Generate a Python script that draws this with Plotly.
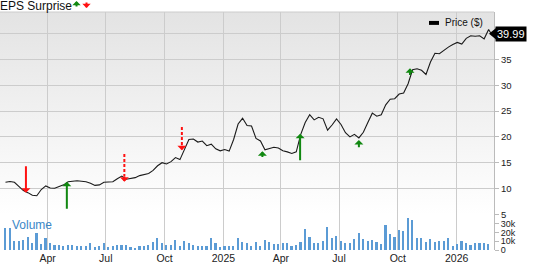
import base64
import pandas as pd
import plotly.graph_objects as go

# ---------------- data ----------------
price = [11.2, 11.35, 11.2, 10.4, 9.6, 9.2, 8.7, 8.6, 9.8, 10.5,
         10.1, 10.05, 10.4, 10.7, 11.3, 11.4, 11.5, 11.4, 11.3, 11.0,
         10.6, 10.7, 11.2, 11.25, 11.3, 11.9, 12.4, 11.8, 11.9, 12.1,
         12.5, 12.7, 12.9, 13.5, 14.4, 15.0, 14.75, 15.2, 16.0, 15.6,
         17.6, 19.5, 19.6, 19.0, 19.2, 18.3, 18.6, 17.7, 17.3, 17.55,
         17.25, 19.5, 22.5, 23.6, 22.2, 22.1, 19.7, 19.2, 17.5, 17.7,
         18.0, 17.85, 17.3, 17.1, 16.8, 17.1, 20.5, 22.8, 24.3, 23.3,
         23.8, 23.5, 21.3, 22.3, 23.5, 22.4, 20.8, 20.0, 20.5, 19.8,
         20.9, 22.8, 24.6, 24.0, 24.3, 26.2, 27.3, 27.4, 28.3, 28.5,
         30.3, 33.0, 33.2, 32.9, 32.1, 34.5, 36.2, 36.1, 36.8, 37.4,
         37.9, 38.3, 38.0, 39.1, 39.6, 39.5, 39.6, 39.0, 40.8, 39.99]

volume_k = [24.8, 24.8, 10, 10, 11.1, 14.8, 7.4, 19.6, 6.3, 13,
            8.1, 5.6, 5.6, 4.4, 5.6, 5.6, 4.4, 3.7, 4.4, 7.4,
            3.0, 3.7, 7.4, 3.0, 3.7, 5.6, 5.6, 5.6, 3.0, 1.9,
            3.7, 3.7, 5.6, 9.3, 13, 8.1, 5.6, 5.6, 11.1, 3.7,
            10, 7.4, 5.6, 4.4, 4.4, 4.4, 13.7, 7.4, 3.0, 4.4,
            4.4, 3.7, 13, 9.3, 7.4, 4.4, 9.3, 4.4, 11.1,
            9.3, 6.3, 6.3, 7.4, 7.4, 3.7, 5.6, 9.3, 24.1, 14.1,
            7.4, 7.4, 10, 25.9, 13, 15.9, 10.4, 7.4, 7.4, 12.2,
            19.3, 12.2, 10.4, 11.1, 9.3, 6.7, 27.8, 18.5, 14.8, 22.2,
            21.5, 36.3, 34.4, 13, 13, 9.3, 12.2, 9.3, 10, 10,
            13, 4.4, 6.3, 10.4, 7.4, 5.6, 7.4, 8.1, 7.4, 6.3]

week_dates = pd.date_range("2024-01-26", periods=len(volume_k), freq="7D")
price_dates = list(week_dates) + [pd.Timestamp("2026-02-24")]

# EPS surprise events: date, price at arrow tip, price at arrow tail, kind
eps_dates = ["2024-02-27", "2024-05-01", "2024-07-30", "2024-10-28",
             "2025-03-03", "2025-05-01", "2025-08-01", "2025-10-20"]
eps_tip = [9.2, 11.3, 11.3, 17.4, 17.2, 20.6, 19.4, 33.3]
eps_tail = [14.6, 5.8, 16.7, 21.9, 15.8, 15.2, 17.7, 31.7]
eps_kind = ["miss", "beat", "miss_dashed", "miss_dashed",
            "beat", "beat", "beat", "beat"]

month_ticks = ["2024-04-01", "2024-07-01", "2024-10-01", "2025-01-01",
               "2025-04-01", "2025-07-01", "2025-10-01", "2026-01-01"]
month_labels = ["Apr", "Jul", "Oct", "2025", "Apr", "Jul", "Oct", "2026"]

price_ticks = [5, 10, 15, 20, 25, 30, 35, 40]
price_labels = ["5", "10", "15", "20", "25", "30", "35", ""]
vol_ticks = [0, 10, 20, 30]
vol_labels = ["0", "10k", "20k", "30k"]
last_price = 39.99

# ---------------- figure ----------------
FONT = "Liberation Sans, Arial, sans-serif"
GRID = "#cccccc"
GREEN = "#118811"
RED = "#ff1111"

fig = go.Figure()

fig.add_trace(go.Bar(x=week_dates, y=volume_k, xaxis="x", yaxis="y2",
                     marker=dict(color="#5b9bd5", line=dict(width=0)),
                     width=2.6 * 86400000, showlegend=False, hoverinfo="skip"))

fig.add_trace(go.Scatter(x=price_dates, y=price, xaxis="x", yaxis="y",
                         mode="lines", line=dict(color="#1a1a1a", width=1.1),
                         showlegend=False, hoverinfo="skip"))

annotations = []
shapes = []

for d, tip, tail, kind in zip(eps_dates, eps_tip, eps_tail, eps_kind):
    color = GREEN if kind == "beat" else RED
    if kind == "miss_dashed":
        shapes.append(dict(type="line", xref="x", yref="y", x0=d, x1=d,
                           y0=tail, y1=tip + 1.0,
                           line=dict(color=color, width=2, dash="3px,2px")))
        annotations.append(dict(x=d, y=tip, xref="x", yref="y", text="",
                                showarrow=True, ax=0, ay=-6, axref="pixel",
                                ayref="pixel", arrowhead=1, arrowsize=0.75,
                                arrowwidth=2, arrowcolor=color))
    else:
        annotations.append(dict(x=d, y=tip, xref="x", yref="y", text="",
                                showarrow=True, ax=0, ay=tail, axref="pixel",
                                ayref="y", arrowhead=1, arrowsize=0.75,
                                arrowwidth=2, arrowcolor=color))

# title-like labels
annotations.append(dict(xref="paper", yref="paper", x=0, y=1.026,
                        xanchor="left", yanchor="middle", showarrow=False,
                        text="EPS Surprise",
                        font=dict(family=FONT, size=12, color="#111"),
                        xshift=-2))
# small legend arrows next to "EPS Surprise"
annotations.append(dict(xref="paper", yref="paper", x=0.1549, y=1.0458,
                        text="", showarrow=True, ax=0, ay=7, arrowhead=1,
                        arrowsize=0.7, arrowwidth=2, arrowcolor=GREEN))
annotations.append(dict(xref="paper", yref="paper", x=0.1751, y=1.0167,
                        text="", showarrow=True, ax=0, ay=-7, arrowhead=1,
                        arrowsize=0.7, arrowwidth=2, arrowcolor=RED))
annotations.append(dict(xref="paper", yref="paper", x=0.02, y=0.104,
                        xanchor="left", yanchor="middle", showarrow=False,
                        text="Volume", font=dict(family=FONT, size=12, color="#3a87c8")))
annotations.append(dict(xref="paper", yref="paper", x=0.897, y=0.954,
                        xanchor="left", yanchor="middle", showarrow=False,
                        text="Price ($)", font=dict(family=FONT, size=10, color="#111")))
annotations.append(dict(xref="paper", yref="y", x=1, y=last_price,
                        xanchor="left", yanchor="middle", showarrow=False,
                        xshift=1, text="%.2f" % last_price, bgcolor="#000000",
                        borderpad=1, font=dict(family=FONT, size=11, color="#ffffff")))

# legend swatch
shapes.append(dict(type="rect", xref="paper", yref="paper", x0=0.8684, x1=0.8887,
                   y0=0.9458, y1=0.9625, fillcolor="#000000", line=dict(width=0)))
# pointer of the last-price tag
shapes.append(dict(type="path", xref="paper", yref="y", xsizemode="pixel",
                   ysizemode="pixel", xanchor=1, yanchor=last_price,
                   path="M-5,0 L3,6.5 L3,-6.5 Z", fillcolor="#000000",
                   line=dict(width=0)))
# top border of the plotting area
shapes.append(dict(type="line", xref="paper", yref="paper", x0=0, x1=1, y0=1, y1=1,
                   line=dict(color=GRID, width=1)))

svg = ('<svg xmlns="http://www.w3.org/2000/svg" width="10" height="100" '
       'preserveAspectRatio="none"><defs><linearGradient id="g" x1="0" y1="0" '
       'x2="0" y2="1"><stop offset="0" stop-color="#e3e3e3"/>'
       '<stop offset="1" stop-color="#ffffff"/></linearGradient></defs>'
       '<rect width="10" height="100" fill="url(#g)"/></svg>')
src = "data:image/svg+xml;base64," + base64.b64encode(svg.encode()).decode()

fig.update_layout(
    width=533, height=264,
    margin=dict(l=0, r=39, t=12, b=12),
    paper_bgcolor="#ffffff", plot_bgcolor="rgba(0,0,0,0)",
    font=dict(family=FONT, size=10, color="#333"),
    bargap=0,
    showlegend=False,
    images=[dict(source=src, xref="paper", yref="paper", x=0, y=1,
                 sizex=1, sizey=0.85, sizing="stretch", layer="below",
                 xanchor="left", yanchor="top")],
    xaxis=dict(type="date", range=["2024-01-17 10:00", "2026-02-28 10:00"],
               anchor="y2", tickvals=month_ticks, ticktext=month_labels,
               showgrid=True, gridcolor=GRID, gridwidth=1, ticks="",
               showline=False, zeroline=False,
               tickfont=dict(family=FONT, size=10.5, color="#222")),
    yaxis=dict(domain=[0.15, 1], range=[5, 44.2], side="right", anchor="x",
               tickvals=price_ticks, ticktext=price_labels,
               showgrid=True, gridcolor=GRID, gridwidth=1, zeroline=False,
               showline=True, linecolor="#bbbbbb", ticks="outside", ticklen=4,
               tickcolor="#bbbbbb",
               tickfont=dict(family=FONT, size=9.5, color="#222")),
    yaxis2=dict(domain=[0, 0.15], range=[0, 40.8], side="right", anchor="x",
                tickvals=vol_ticks, ticktext=vol_labels,
                showgrid=False, zeroline=False,
                showline=True, linecolor="#bbbbbb", ticks="outside", ticklen=4,
                tickcolor="#bbbbbb",
                tickfont=dict(family=FONT, size=9, color="#222")),
    annotations=annotations,
    shapes=shapes,
)

fig.write_html("out.html")
